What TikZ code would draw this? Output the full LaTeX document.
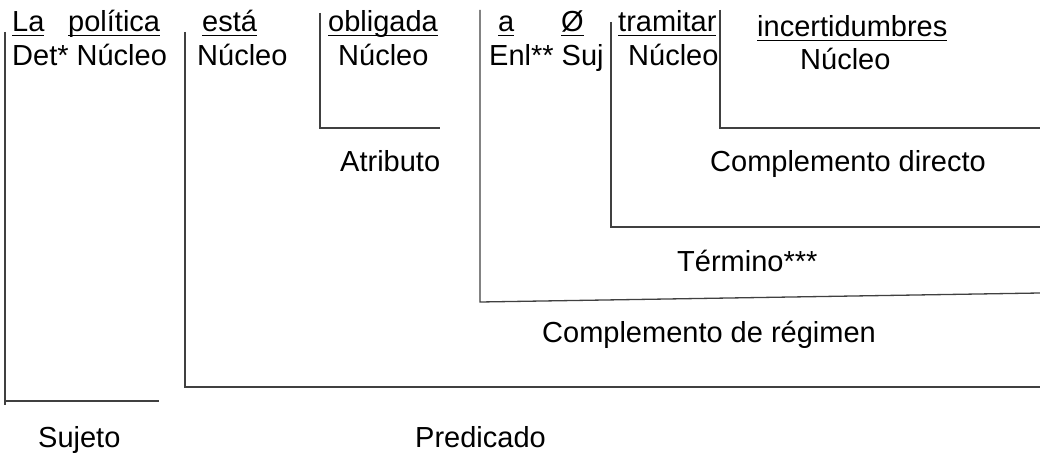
\documentclass[tikz,border=0pt]{standalone}
\usepackage{fontspec}
\setmainfont{Liberation Sans}
\newcommand{\subr}[1]{\setbox0\hbox{#1}\rlap{\rule[-4.5pt]{\wd0}{1.6pt}}\box0}

\begin{document}
\begin{tikzpicture}[x=1pt, y=-1pt, every node/.style={anchor=base west, inner sep=0pt, font=\fontsize{29}{34}\selectfont}, bracket/.style={draw=black!75, line width=1.3pt}]
\useasboundingbox (0,0) rectangle (1040,454);
% palabras de la oracion
\node (la) at (12,32) {\subr{La}};
\node (politica) at (68,32) {\subr{política}};
\node (esta) at (202,32) {\subr{está}};
\node (obligada) at (328,32) {\subr{obligada}};
\node (a) at (498,32) {\subr{a}};
\node (vacio) at (561,32) {\subr{Ø}};
\node (tramitar) at (618,32) {\subr{tramitar}};
\node (incert) at (757,37) {\subr{incertidumbres}};
% funciones
\node (detnuc) at (12,66) {Det* Núcleo};
\node (nucesta) at (197,66) {Núcleo};
\node (nucoblig) at (338,66) {Núcleo};
\node (enlsuj) at (489,66) {Enl** Suj};
\node (nuctram) at (628,66) {Núcleo};
\node (nucinc) at (800,70) {Núcleo};
% corchetes
\draw[bracket] (5,32) -- (5,405);
\draw[bracket] (5,401) -- (159,401);
\draw[bracket] (185,32) -- (185,387) -- (1040,387);
\draw[bracket] (320,13) -- (320,128) -- (440,128);
\draw[bracket] (480,10) -- (480,302) -- (1040,293);
\draw[bracket] (611,22) -- (611,227) -- (1040,227);
\draw[bracket] (720,10) -- (720,128) -- (1040,128);
% etiquetas
\node (atrib) at (340,172) {Atributo};
\node (cd) at (710,172) {Complemento directo};
\node (term) at (677,271) {Término***};
\node (creg) at (542,342) {Complemento de régimen};
\node (suj) at (38,447) {Sujeto};
\node (pred) at (415,447) {Predicado};
\end{tikzpicture}
\end{document}
